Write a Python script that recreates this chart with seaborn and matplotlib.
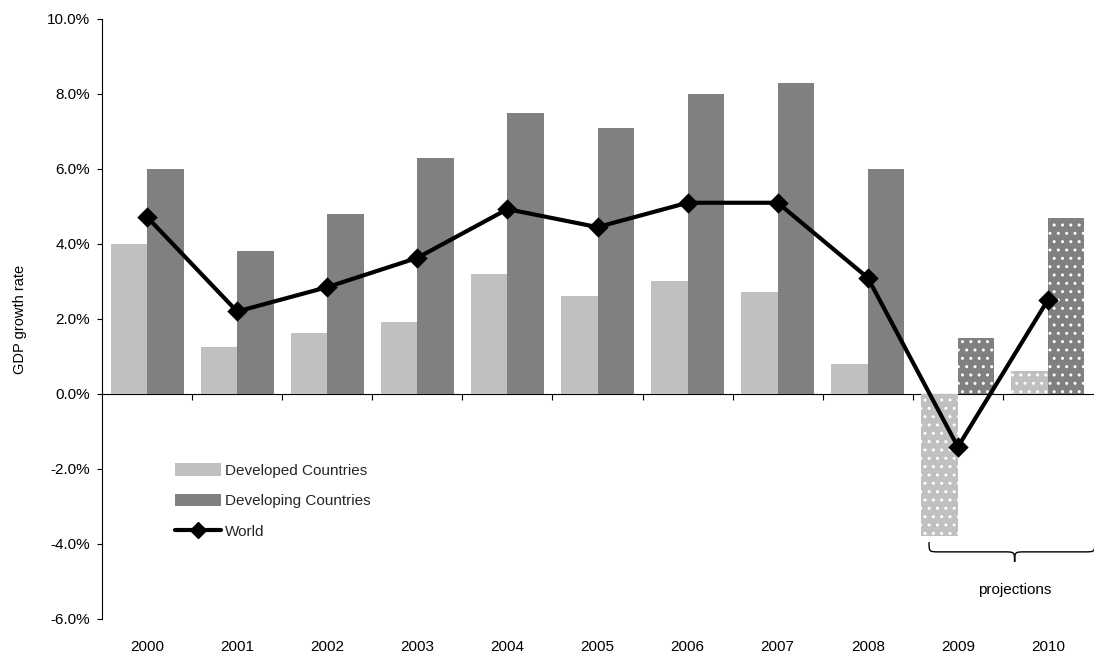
import numpy as np
import pandas as pd
import matplotlib
matplotlib.use("Agg")
import matplotlib.pyplot as plt
import seaborn as sns
from matplotlib.patches import Patch, PathPatch
from matplotlib.lines import Line2D
from matplotlib.path import Path
from matplotlib.ticker import FuncFormatter

# GDP growth rates (%), 2009 and 2010 are projections
years = ["2000", "2001", "2002", "2003", "2004", "2005",
         "2006", "2007", "2008", "2009", "2010"]
developed = [4.0, 1.25, 1.63, 1.92, 3.2, 2.6, 3.0, 2.72, 0.8, -3.8, 0.6]
developing = [6.0, 3.8, 4.8, 6.3, 7.5, 7.1, 8.0, 8.3, 6.0, 1.5, 4.7]
world = [4.72, 2.2, 2.85, 3.63, 4.93, 4.45, 5.1, 5.1, 3.1, -1.41, 2.51]
projected_years = ["2009", "2010"]
series_names = ["Developed Countries", "Developing Countries", "World"]

light_grey = "#C0C0C0"
dark_grey = "#808080"

sns.set_theme(style="white")
plt.rcParams["font.family"] = ["Liberation Sans", "DejaVu Sans"]
FS = 11

bars = pd.DataFrame({
    "year": years * 2,
    "series": [series_names[0]] * len(years) + [series_names[1]] * len(years),
    "growth": developed + developing,
})
line = pd.DataFrame({"year": years, "growth": world})

fig = plt.figure(figsize=(10.94, 6.54), dpi=100)
ax = fig.add_axes([102 / 1094, 1 - 619 / 654, 991 / 1094, 600 / 654])

sns.barplot(data=bars, x="year", y="growth", hue="series", order=years,
            hue_order=series_names[:2], palette=[light_grey, dark_grey],
            width=0.81, gap=0, linewidth=0, saturation=1, legend=False, ax=ax)

# dotted fill for projected years
n = len(years)
for i, patch in enumerate(ax.patches[:2 * n]):
    if years[i % n] in projected_years:
        patch.set_hatch("..")
        patch.set_edgecolor("white")
        patch.set_linewidth(0)

sns.pointplot(data=line, x="year", y="growth", order=years, color="black",
              marker="D", markersize=8.5, linewidth=3, errorbar=None, ax=ax)

ax.set_xlim(-0.5, n - 0.5)
ax.set_ylim(-6, 10)
ax.set_yticks(np.arange(-6, 10.1, 2))
ax.yaxis.set_major_formatter(FuncFormatter(lambda v, _: f"{v:.1f}%"))
ax.tick_params(axis="y", direction="out", length=3.6, width=0.8, pad=5.0,
               labelsize=FS, colors="black", left=True)
ax.tick_params(axis="x", length=0, pad=15, labelsize=FS, colors="black")
ax.set_xlabel("")
ax.set_ylabel("GDP growth rate", fontsize=10.5, labelpad=14, color="black")

for side in ["top", "right", "bottom"]:
    ax.spines[side].set_visible(False)
ax.spines["left"].set_color("black")
ax.spines["left"].set_linewidth(0.8)

# category axis running along the zero line
zero_frac = (0 - (-6)) / (10 - (-6))
zaxis = ax.secondary_xaxis(zero_frac)
zaxis.set_xticks(np.arange(0.5, n - 1, 1.0))
zaxis.set_xticklabels([])
zaxis.tick_params(direction="out", length=4.5, width=0.8, colors="black")
zaxis.spines["bottom"].set_color("black")
zaxis.spines["bottom"].set_linewidth(0.8)
for side in ["top", "left", "right"]:
    zaxis.spines[side].set_visible(False)

# brace marking the projected years
x0, x1, xm = 8.68, 10.52, 9.63
ytop, yh, ytip = -3.95, -4.21, -4.48
r = 0.12
verts = [
    (x0, ytop), (x0, yh), (x0, yh), (x0 + r, yh),
    (xm - r, yh),
    (xm, yh), (xm, yh), (xm, ytip),
    (xm, yh), (xm, yh), (xm + r, yh),
    (x1 - r, yh),
    (x1, yh), (x1, yh), (x1, ytop),
]
codes = [Path.MOVETO, Path.CURVE4, Path.CURVE4, Path.CURVE4,
         Path.LINETO,
         Path.CURVE4, Path.CURVE4, Path.CURVE4,
         Path.CURVE4, Path.CURVE4, Path.CURVE4,
         Path.LINETO,
         Path.CURVE4, Path.CURVE4, Path.CURVE4]
ax.add_patch(PathPatch(Path(verts, codes), facecolor="none", edgecolor="black",
                       linewidth=1.0, clip_on=False))
ax.text(xm, -5.23, "projections", ha="center", va="center", fontsize=FS,
        color="black")

handles = [
    Patch(facecolor=light_grey, edgecolor="none"),
    Patch(facecolor=dark_grey, edgecolor="none"),
    Line2D([0], [0], color="black", linewidth=3, marker="D", markersize=8.5),
]
ax.legend(handles, series_names, loc="upper left",
          bbox_to_anchor=(0.068, 0.27), frameon=False, fontsize=FS,
          handlelength=3.0, handleheight=0.9, handletextpad=0.25,
          labelspacing=1.05, borderaxespad=0)

fig.savefig("out.png", dpi=100)
